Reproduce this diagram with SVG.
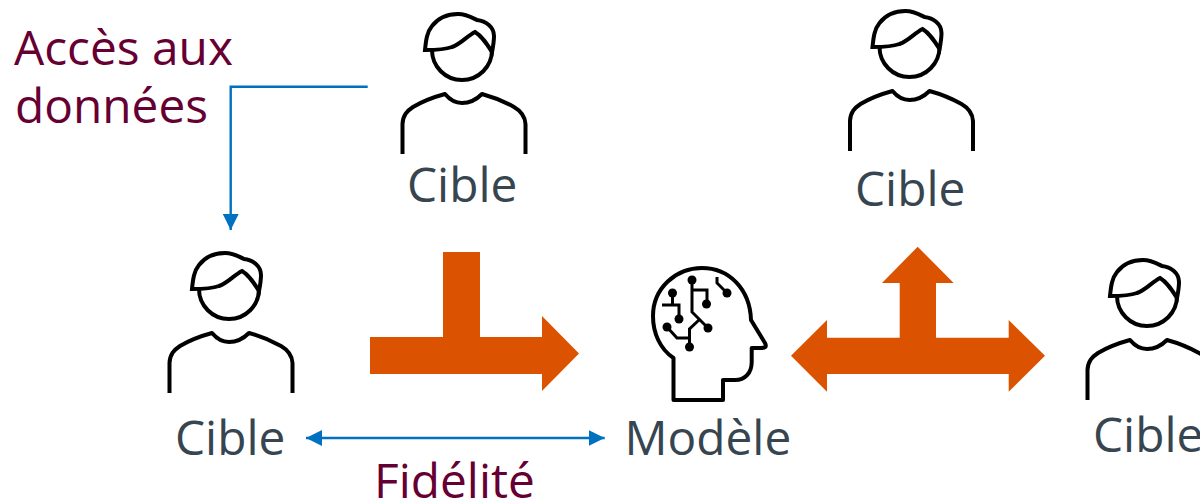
<svg xmlns="http://www.w3.org/2000/svg" width="1200" height="502" viewBox="0 0 1200 502">
<style>
.ink{fill:none;stroke:#000;stroke-width:4;stroke-linejoin:round}
.thin{fill:none;stroke:#000;stroke-width:3;stroke-linejoin:miter}
.dot{fill:#000}
.label{font-family:"Open Sans","Noto Sans",sans-serif;font-size:47.800px;fill:#36454f}
.key{font-family:"Open Sans","Noto Sans",sans-serif;font-size:47.800px;fill:#660033}
.big{fill:#db5300}
.wire{fill:none;stroke:#0070c0;stroke-width:2.400}
</style>
<defs>
<marker id="tip" markerUnits="userSpaceOnUse" markerWidth="16" markerHeight="16" viewBox="0 0 16 16" refX="16" refY="8" orient="auto-start-reverse"><path d="M0 0L16 8L0 16Z" fill="#0070c0"/></marker>
<g id="person">
<circle class="ink" cx="462" cy="50" r="30"/>
<path d="M425 50C426 40 427 32 432 26C439 17 449 14 458 14C466 14 471 17 477 20C486 21 494 27 494 36C494 42 493 47 492 52C487 44 482 36 475 32C467 36 461 44 452 47C444 50 434 50 425 50Z" fill="#fff" stroke="#000" stroke-width="4" stroke-linejoin="miter"/>
<path class="ink" d="M402.500 154V124C403 115 407 111 413 107C423 101 434 97 445 94C450 100 455 103 462 103C469 103 476 100 482 94C493 97 505 102 514 107C521 111 525 116 525.500 124V154"/>
</g>
</defs>
<g id="connectors">
<path class="wire" d="M367.700 86.700H230.700V230" marker-end="url(#tip)"/>
<path class="wire" d="M306 438H604.700" marker-start="url(#tip)" marker-end="url(#tip)"/>
<path id="flow-left" class="big" d="M443 252H480V337H542V316L579 353.500L542 391V374H370V337H443Z"/>
<path id="flow-right" class="big" d="M917.700 246.700L953.700 283H936V337.700H1008.700V320L1045 355.700L1008.700 391.700V374H827V391.700L791 355.700L827 320V337.700H899.700V283H882Z"/>
</g>
<g id="target-top-left"><use href="#person"/><text class="label" x="407" y="202">Cible</text></g>
<g id="target-top-right"><use href="#person" x="447.500" y="-3"/><text class="label" x="855" y="206">Cible</text></g>
<g id="target-left"><use href="#person" x="-233" y="239"/><text class="label" x="175" y="455">Cible</text></g>
<g id="target-right"><use href="#person" x="685" y="246"/><text class="label" x="1093" y="452">Cible</text></g>
<g id="model">
<path class="ink" d="M673.500 400V358C660 349 653 333 653 316C653 288 676 268 702 268C729 268 750 289 751 320L765 343C767 347 765 348 761 348H751.700V362C751.700 373 745 380 735 380H723V400Z"/>
<path class="thin" d="M692 280V312L708 328M692 290H707V303M672.500 293V305M662 305H679V319M667 327L677 338H689.500M699 320L689.500 329V347M717 277V283L727 293"/>
<g class="dot"><circle cx="692" cy="280" r="4.500"/><circle cx="706.500" cy="304" r="4.500"/><circle cx="727" cy="293" r="4.500"/><circle cx="672.500" cy="293" r="4.500"/><circle cx="679" cy="319" r="4.500"/><circle cx="667" cy="327" r="4.500"/><circle cx="689.500" cy="347" r="4.500"/><circle cx="708" cy="328" r="4.500"/></g>
<text class="label" x="624.500" y="455">Modèle</text>
</g>
<g id="labels">
<text class="key" x="14" y="65">Accès aux</text>
<text class="key" x="15" y="123">données</text>
<text class="key" x="374" y="498">Fidélité</text>
</g>
</svg>
